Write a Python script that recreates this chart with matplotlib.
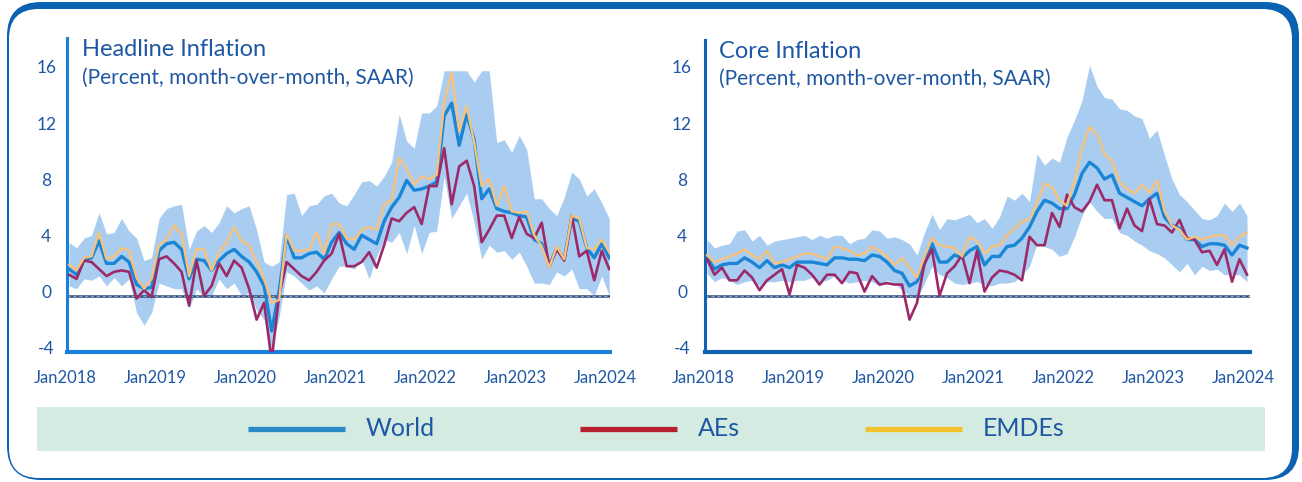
import matplotlib
matplotlib.use("Agg")
import matplotlib.pyplot as plt
import numpy as np
from matplotlib.patches import FancyBboxPatch
from matplotlib.transforms import IdentityTransform, ScaledTranslation
from matplotlib.lines import Line2D

plt.rcParams["font.family"] = ["Lato", "DejaVu Sans"]

# monthly, Jan2018 .. Jan2024
year_labels = ["Jan2018", "Jan2019", "Jan2020", "Jan2021", "Jan2022", "Jan2023", "Jan2024"]
y_ticks = [-4, 0, 4, 8, 12, 16]

# headline inflation
hl_world = [1.9, 1.5, 2.6, 2.7, 3.9, 2.3, 2.3, 2.8, 2.4, 0.8, 0.5, 0.6, 3.2, 3.7, 3.8, 3.3, 1.2, 2.6, 2.5, 1.8, 2.5, 3.0, 3.3, 2.8,
            2.4, 1.7, 0.7, -2.5, 0.3, 4.3, 2.7, 2.7, 3.0, 3.1, 2.6, 3.8, 4.5, 3.7, 3.3, 4.3, 4.0, 3.7, 5.3, 6.3, 7.0, 8.2, 7.5, 7.6,
            7.8, 8.1, 12.8, 13.7, 10.7, 12.9, 11.1, 6.9, 7.6, 6.2, 6.0, 5.9, 5.7, 5.6, 4.0, 3.7, 2.1, 3.4, 2.6, 5.5, 5.3, 3.4, 2.7, 3.7, 2.7]
hl_ae = [1.5, 1.2, 2.5, 2.4, 1.9, 1.4, 1.7, 1.8, 1.7, -0.2, 0.4, -0.1, 2.6, 2.8, 2.3, 1.7, -0.7, 2.5, 0.0, 0.7, 2.3, 1.4, 2.5, 2.0,
         0.5, -1.7, -0.5, -4.6, 0.0, 2.4, 1.9, 1.4, 1.1, 1.7, 2.5, 3.0, 4.4, 2.1, 2.1, 2.4, 3.1, 2.0, 3.6, 5.5, 5.3, 5.9, 6.3, 5.1,
         7.8, 7.8, 10.5, 6.5, 9.2, 9.6, 7.8, 3.8, 4.7, 5.7, 5.7, 4.1, 5.6, 4.4, 4.1, 5.2, 2.1, 3.3, 2.5, 5.7, 2.8, 3.2, 1.1, 3.2, 1.9]
hl_emde = [2.2, 1.8, 2.7, 2.8, 4.5, 2.6, 2.8, 3.4, 3.2, 1.3, 0.5, 1.2, 3.6, 4.0, 5.0, 4.4, 1.4, 3.3, 3.3, 1.8, 3.1, 3.8, 4.9, 3.9,
           3.6, 2.4, 1.2, -0.5, -0.3, 4.4, 3.2, 3.2, 3.3, 4.5, 3.0, 5.1, 5.1, 4.1, 4.0, 4.7, 4.9, 4.7, 6.5, 6.8, 9.8, 9.0, 7.9, 8.5,
           8.3, 8.6, 13.7, 15.9, 11.7, 13.5, 10.9, 7.8, 8.3, 6.4, 7.8, 6.0, 5.9, 6.0, 4.3, 3.5, 2.0, 3.5, 2.6, 5.7, 5.5, 3.4, 3.3, 4.0, 3.1]
hl_hi = [3.8, 3.4, 4.1, 4.3, 5.9, 4.4, 4.5, 5.5, 4.6, 4.1, 2.5, 2.7, 5.5, 6.2, 6.4, 6.5, 3.3, 4.6, 5.0, 4.5, 5.2, 6.4, 5.9, 6.2,
         6.4, 4.7, 2.4, 2.1, 2.4, 7.2, 7.3, 5.7, 6.4, 6.5, 7.1, 7.3, 6.6, 6.4, 7.2, 8.1, 8.2, 7.8, 8.5, 9.5, 12.9, 11.0, 10.5, 13.0,
         13.0, 13.5, 16, 16, 16, 16, 15.2, 16, 16, 10.9, 11.1, 10.2, 11.4, 10.4, 6.9, 6.9, 6.2, 5.7, 7.0, 8.8, 8.3, 7.1, 7.6, 6.6, 5.5]
hl_lo = [0.7, 0.5, 1.2, 1.1, 1.4, 0.7, 1.3, 0.7, 1.2, -1.2, -2.1, -1.2, 0.9, 0.7, 0.5, 0.5, -0.9, 0.5, -0.1, 0.0, 1.2, 0.5, 0.9, 0.0,
         0.2, -1.0, -1.7, -3.8, -1.5, 1.7, 1.4, 0.9, 0.4, 0.7, 0.2, 1.2, 2.1, 2.1, 1.9, 2.6, 1.2, 2.8, 4.0, 3.8, 4.5, 3.0, 5.0, 3.0,
         4.5, 4.6, 8.5, 5.5, 6.4, 7.3, 5.2, 2.6, 3.6, 3.1, 3.2, 2.6, 3.1, 2.1, 0.9, 0.9, 0.8, 1.7, 1.4, 1.9, 0.5, 0.5, 0.0, 1.4, 0.0]

# core inflation
co_world = [2.7, 1.9, 2.2, 2.3, 2.3, 2.7, 2.4, 2.0, 2.5, 2.0, 2.2, 2.0, 2.4, 2.4, 2.4, 2.3, 2.2, 2.7, 2.7, 2.6, 2.6, 2.5, 2.9, 2.8,
            2.4, 1.8, 1.6, 0.7, 1.0, 2.3, 3.7, 2.4, 2.4, 2.9, 2.7, 3.2, 3.5, 2.2, 2.8, 2.8, 3.5, 3.6, 4.1, 4.9, 6.0, 6.8, 6.6, 6.2,
            6.2, 7.2, 8.7, 9.5, 9.1, 8.3, 8.6, 7.3, 7.0, 6.7, 6.4, 6.9, 7.3, 5.6, 5.0, 4.8, 4.0, 4.0, 3.5, 3.7, 3.7, 3.6, 2.9, 3.6, 3.4]
co_ae = [2.6, 1.5, 2.0, 1.1, 1.1, 1.8, 1.3, 0.4, 1.1, 1.5, 1.9, 0.1, 2.2, 2.0, 1.5, 0.8, 1.5, 1.5, 0.9, 1.7, 1.6, 0.3, 1.4, 0.8,
         0.9, 0.8, 0.8, -1.7, -0.5, 2.3, 3.3, 0.0, 1.6, 2.1, 2.9, 0.9, 3.2, 0.3, 1.3, 1.8, 1.7, 1.5, 1.1, 4.2, 3.6, 3.6, 5.9, 4.9,
         7.2, 6.3, 6.0, 6.7, 7.9, 6.8, 6.8, 4.8, 6.2, 5.0, 4.6, 6.9, 5.1, 5.0, 4.5, 5.4, 4.1, 4.0, 3.1, 3.2, 2.2, 3.3, 1.0, 2.6, 1.5]
co_emde = [2.9, 2.4, 2.6, 2.8, 3.0, 3.3, 2.9, 2.6, 3.2, 2.3, 2.4, 2.6, 2.8, 3.0, 3.0, 2.8, 2.6, 3.5, 3.4, 3.2, 2.9, 3.0, 3.5, 3.2,
           2.8, 2.2, 2.7, 2.0, 1.3, 2.8, 4.1, 3.6, 3.5, 3.4, 2.8, 4.2, 3.9, 3.0, 3.5, 3.6, 4.3, 4.8, 5.3, 5.4, 6.6, 8.0, 7.7, 6.8,
           6.4, 8.2, 10.5, 12.0, 11.5, 10.1, 9.6, 8.1, 7.6, 7.3, 7.9, 7.3, 8.2, 6.0, 5.0, 4.7, 4.0, 4.2, 4.0, 4.2, 4.3, 4.3, 3.6, 4.2, 4.5]
co_hi = [4.0, 3.4, 3.6, 3.7, 4.6, 4.7, 3.9, 4.3, 3.6, 3.9, 4.0, 4.1, 4.2, 4.3, 4.0, 4.3, 4.1, 4.3, 4.3, 3.7, 4.0, 4.1, 4.7, 4.6,
         4.1, 4.2, 4.0, 3.7, 2.9, 4.5, 5.8, 4.7, 5.5, 5.4, 5.6, 5.8, 5.2, 5.5, 4.8, 5.6, 7.1, 6.8, 7.3, 6.7, 10.1, 9.3, 9.8, 9.5,
         11.3, 12.5, 13.9, 16.4, 14.9, 14.1, 14.0, 13.3, 13.2, 12.8, 12.6, 11.2, 11.8, 10.0, 8.3, 7.2, 6.7, 6.1, 5.5, 5.4, 5.7, 6.6, 6.0, 6.6, 5.7]
co_lo = [1.6, 1.0, 1.3, 1.1, 0.8, 1.0, 1.1, 0.7, 1.0, 1.0, 1.1, 1.0, 1.1, 1.1, 1.3, 1.0, 1.1, 1.4, 1.1, 0.9, 1.0, 1.1, 1.0, 0.7,
         1.1, 0.9, 0.4, 0.0, -0.2, 0.9, 2.1, 1.5, 1.3, 0.9, 0.8, 0.9, 1.0, 0.8, 0.7, 0.9, 0.9, 1.0, 1.5, 2.1, 3.7, 3.5, 3.3, 2.8,
         3.0, 4.2, 5.7, 6.7, 6.0, 5.5, 5.5, 4.5, 4.3, 3.9, 3.6, 3.2, 3.0, 2.7, 2.2, 1.7, 2.3, 1.5, 2.1, 1.8, 1.9, 1.5, 1.5, 1.5, 1.0]

W, H = 1302, 482
TXT = "#1e57a3"
BAND = "#a9cdf1"
C_WORLD, C_AE, C_EMDE = "#1c86d6", "#9c2a6a", "#f6c27d"

fig = plt.figure(figsize=(W / 100, H / 100), dpi=100)
fig.patch.set_facecolor("white")

# rounded frame: thick top/right, thin left/bottom
outer = FancyBboxPatch((7, 2), 1292, 478, boxstyle="round,pad=0,rounding_size=34",
                       transform=IdentityTransform(), facecolor="#0b62b3", edgecolor="none", zorder=-3)
inner = FancyBboxPatch((9, 4), 1283, 469, boxstyle="round,pad=0,rounding_size=30",
                       transform=IdentityTransform(), facecolor="white", edgecolor="none", zorder=-2)
fig.add_artist(outer)
fig.add_artist(inner)


def px_axes(x0, y_top, x1, y_bot):
    return fig.add_axes([x0 / W, (H - y_bot) / H, (x1 - x0) / W, (y_bot - y_top) / H])


def panel(ax, world, ae, emde, lo, hi, spine_col, xmax, ytop, ypad):
    x = np.arange(len(world))
    ax.fill_between(x, lo, hi, color=BAND, lw=0, zorder=1)
    ax.axhline(0, color="#2d4a7c", lw=1.8, zorder=2)
    ax.axhline(0, color="#9fb3cf", lw=0.6, ls=(0, (4, 3)), zorder=2.1)
    ax.plot(x, world, color=C_WORLD, lw=2.4, zorder=3)
    ax.plot(x, ae, color=C_AE, lw=1.9, zorder=4)
    ax.plot(x, emde, color=C_EMDE, lw=1.7, zorder=5)
    ax.set_xlim(-0.27, xmax)
    ax.set_ylim(-4, ytop)
    ax.set_facecolor("none")
    for s in ["top", "right"]:
        ax.spines[s].set_visible(False)
    ax.spines["left"].set_color(spine_col)
    ax.spines["left"].set_linewidth(2.2)
    ax.spines["bottom"].set_color(spine_col)
    ax.spines["bottom"].set_linewidth(3)
    ax.set_xticks(np.arange(0, 73, 12))
    ax.set_xticklabels(year_labels)
    ax.set_yticks(y_ticks)
    ax.set_yticklabels([str(v) for v in y_ticks])
    ax.tick_params(axis="x", length=0, pad=13, labelsize=12, labelcolor=TXT)
    ax.tick_params(axis="y", length=0, pad=ypad, labelsize=12.5, labelcolor=TXT)
    for lab in ax.get_yticklabels():
        lab.set_horizontalalignment("center")
        lab.set_transform(lab.get_transform() + ScaledTranslation(0, 0.04, fig.dpi_scale_trans))
    for lab in ax.get_xticklabels():
        lab.set_transform(lab.get_transform() + ScaledTranslation(-0.04, 0, fig.dpi_scale_trans))


ax1 = px_axes(67, 38, 610, 352)
panel(ax1, hl_world, hl_ae, hl_emde, hl_lo, hl_hi, "#1a80dc", 72.1, 18.33, 15)
ax2 = px_axes(705, 40, 1250, 352)
panel(ax2, co_world, co_ae, co_emde, co_lo, co_hi, "#1262b3", 72.4, 18.2, 16.5)

fig.text(82 / W, 1 - 50 / H, "Headline Inflation", fontsize=17, color=TXT, va="center")
fig.text(82 / W, 1 - 78 / H, "(Percent, month-over-month, SAAR)", fontsize=15, color=TXT, va="center")
fig.text(719 / W, 1 - 51 / H, "Core Inflation", fontsize=17, color=TXT, va="center")
fig.text(719 / W, 1 - 79 / H, "(Percent, month-over-month, SAAR)", fontsize=15, color=TXT, va="center")

# legend strip
lax = px_axes(37, 407, 1265, 451)
lax.set_facecolor("#d4ebe2")
for s in lax.spines.values():
    s.set_visible(False)
lax.set_xticks([])
lax.set_yticks([])

legend_items = [("World", "#2a8ac6", 248), ("AEs", "#b61f2e", 580), ("EMDEs", "#f2c12e", 865)]
ly = 1 - 429 / H
for name, col, x0 in legend_items:
    fig.add_artist(Line2D([x0 / W, (x0 + 97) / W], [ly, ly], color=col, lw=3.8, solid_capstyle="butt"))
    fig.text((x0 + 118) / W, ly, name, fontsize=18, color=TXT, va="center")

fig.savefig("out.png", dpi=100)
